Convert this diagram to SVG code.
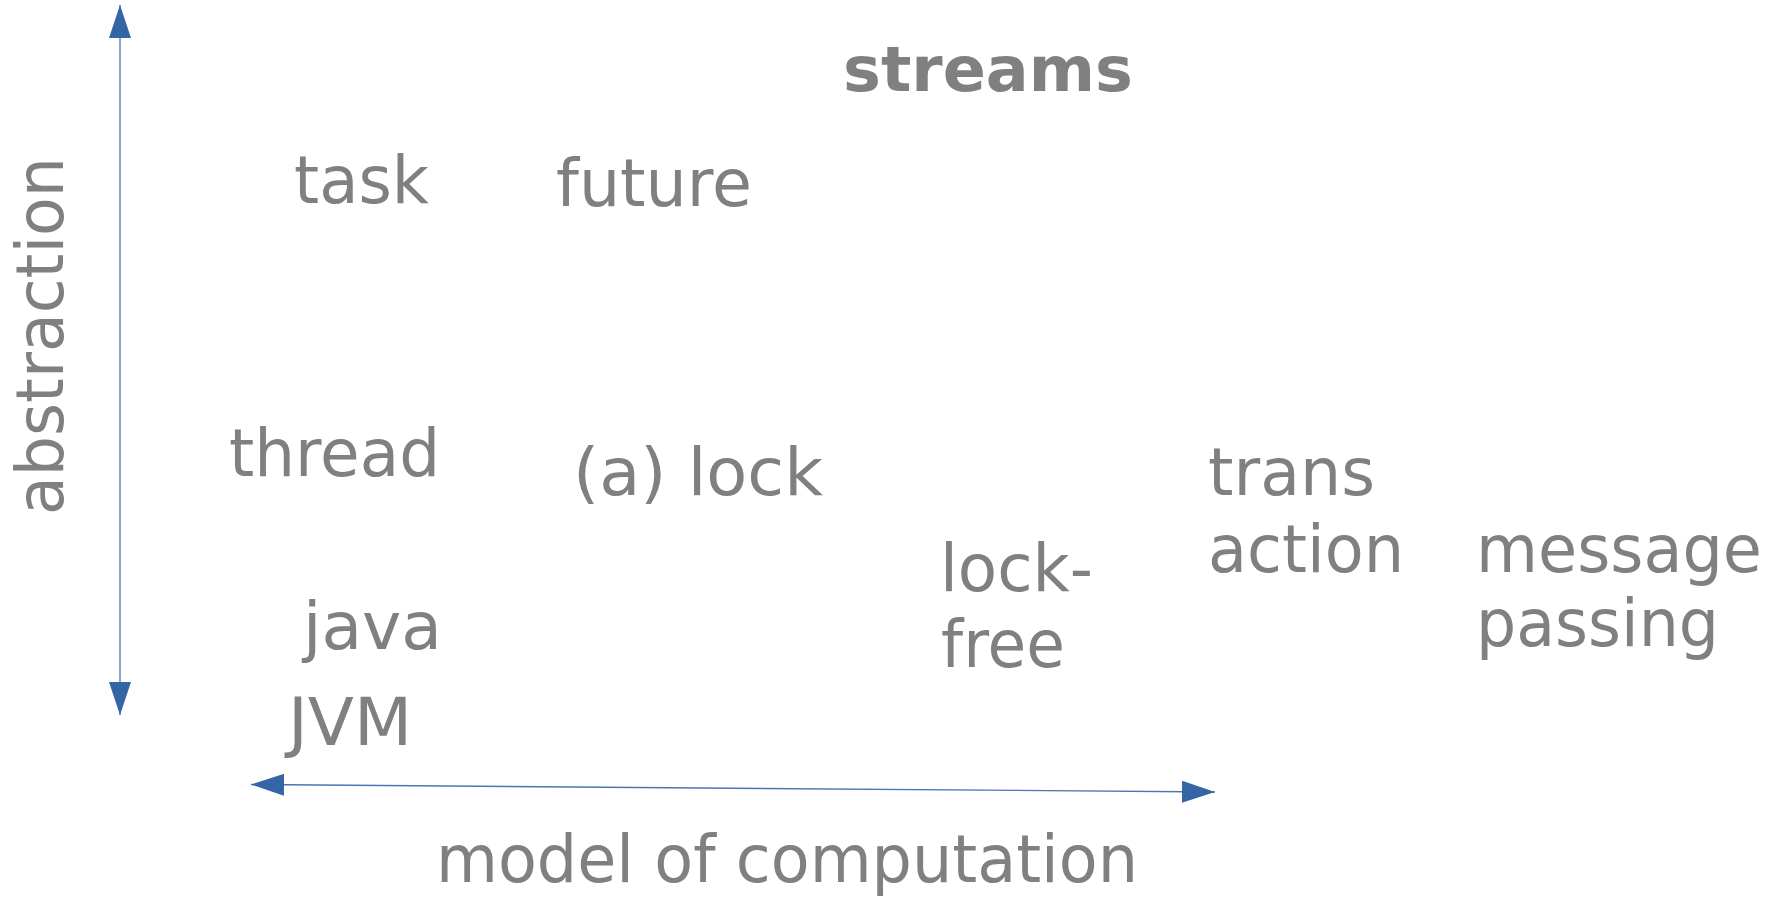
<svg xmlns="http://www.w3.org/2000/svg" width="1777" height="897" viewBox="0 0 1777 897">
  <style>
    .t { font-family: "DejaVu Sans", Verdana, sans-serif; font-size: 66px; fill: #808080; }
    .b { font-weight: bold; font-size: 63px; }
    .ax { stroke: #4a77b4; stroke-width: 1.3; fill: none; }
  </style>
  <defs>
    <marker id="ah" viewBox="0 0 33 22" refX="33" refY="11" markerWidth="33" markerHeight="22" markerUnits="userSpaceOnUse" orient="auto-start-reverse">
      <path d="M0,0 L33,11 L0,22 Z" fill="#3465a4"/>
    </marker>
  </defs>
  <rect width="1777" height="897" fill="#ffffff"/>
  <g id="connectors">
    <line class="ax" x1="120" y1="715" x2="120" y2="5" marker-start="url(#ah)" marker-end="url(#ah)"/>
    <line class="ax" x1="251" y1="784.5" x2="1215" y2="792" marker-start="url(#ah)" marker-end="url(#ah)"/>
  </g>
  <g id="axis-abstraction"><text class="t" transform="translate(63,515) rotate(-90)" textLength="358" lengthAdjust="spacingAndGlyphs">abstraction</text></g>
  <g id="axis-model"><text class="t" x="436" y="882" textLength="702" lengthAdjust="spacingAndGlyphs">model of computation</text></g>
  <g id="streams"><text class="t b" x="843" y="91" textLength="290" lengthAdjust="spacingAndGlyphs">streams</text></g>
  <g id="task"><text class="t" x="294" y="203" textLength="135" lengthAdjust="spacingAndGlyphs">task</text></g>
  <g id="future"><text class="t" x="556" y="206" textLength="196" lengthAdjust="spacingAndGlyphs">future</text></g>
  <g id="thread"><text class="t" x="229" y="476" textLength="211" lengthAdjust="spacingAndGlyphs">thread</text></g>
  <g id="lock"><text class="t" x="573" y="495" textLength="250" lengthAdjust="spacingAndGlyphs">(a) lock</text></g>
  <g id="transaction">
    <text class="t" x="1208" y="495" textLength="167" lengthAdjust="spacingAndGlyphs">trans</text>
    <text class="t" x="1208" y="572" textLength="196" lengthAdjust="spacingAndGlyphs">action</text>
  </g>
  <g id="message-passing">
    <text class="t" x="1476" y="572" textLength="286" lengthAdjust="spacingAndGlyphs">message</text>
    <text class="t" x="1476" y="646" textLength="243" lengthAdjust="spacingAndGlyphs">passing</text>
  </g>
  <g id="lock-free">
    <text class="t" x="940" y="591" textLength="153" lengthAdjust="spacingAndGlyphs">lock-</text>
    <text class="t" x="941" y="667" textLength="124" lengthAdjust="spacingAndGlyphs">free</text>
  </g>
  <g id="java"><text class="t" x="303" y="649" textLength="139" lengthAdjust="spacingAndGlyphs">java</text></g>
  <g id="jvm"><text class="t" x="288" y="745" textLength="124" lengthAdjust="spacingAndGlyphs">JVM</text></g>
</svg>
